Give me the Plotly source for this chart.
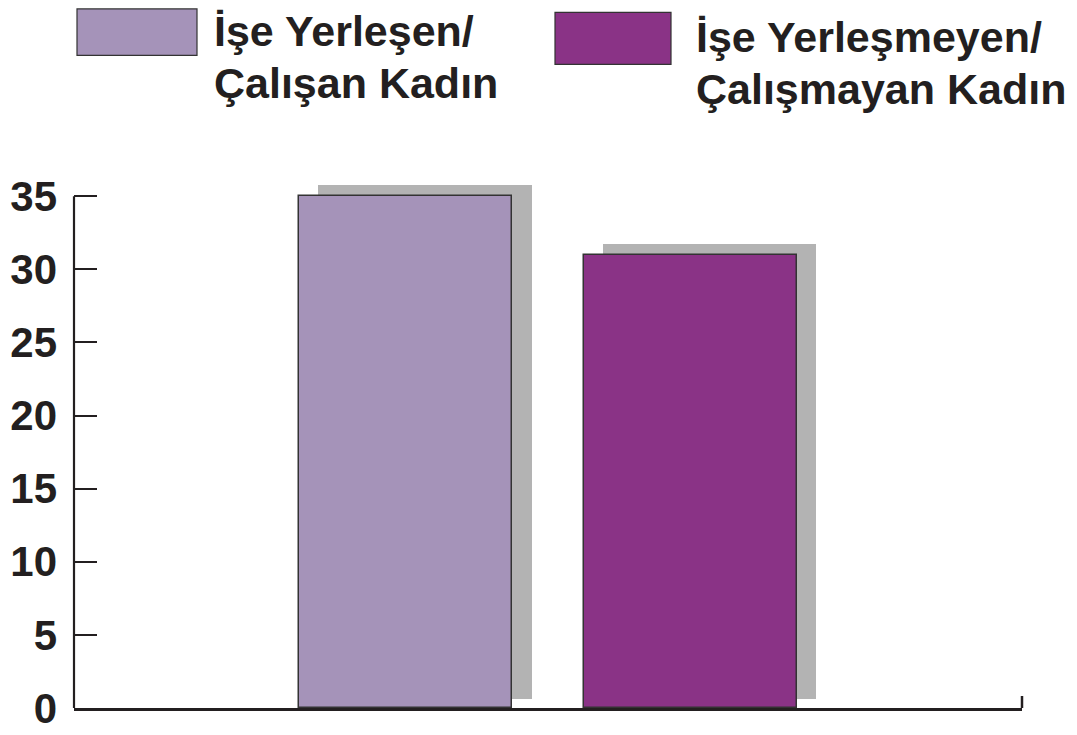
import plotly.graph_objects as go

# ---- data ----
legend_line1 = ["İşe Yerleşen/", "İşe Yerleşmeyen/"]
legend_line2 = ["Çalışan Kadın", "Çalışmayan Kadın"]
values = [35, 31]
x_pos = [1, 2]
y_ticks = [0, 5, 10, 15, 20, 25, 30, 35]
colors = ["#a593b9", "#8a3386"]

# ---- styling ----
INK = "#231f20"
SHADOW = "#b3b3b3"
FONT = "Liberation Sans, Arial, Helvetica, sans-serif"
OFF = 8  # page body margin
W, H = 1077, 735
# desired screen positions of the plot area
SX0, SX1, SY_BOTTOM = 74, 1022, 708
UNIT = 512 / 35.0
YMAX = 37
SY_TOP = SY_BOTTOM - YMAX * UNIT
L = SX0 - OFF
R = W - (SX1 - OFF)
T = SY_TOP - OFF
B = H - (SY_BOTTOM - OFF)
XR = [-0.1665, 3.1665]
BAR_W = 0.75
SH_DX = 0.067
SH_BASE = 0.62
SH_EXTRA = 0.12

fig = go.Figure()

# shadows
fig.add_trace(go.Bar(
    x=[x + SH_DX for x in x_pos], y=[v + SH_EXTRA for v in values], base=SH_BASE,
    width=BAR_W, marker=dict(color=SHADOW, line=dict(width=0)),
    showlegend=False, hoverinfo="skip"))

# bars
for i, (x, v) in enumerate(zip(x_pos, values)):
    fig.add_trace(go.Bar(
        x=[x], y=[v], width=BAR_W, name=legend_line1[i] + " " + legend_line2[i],
        marker=dict(color=colors[i], line=dict(color="#333333", width=1.5)),
        showlegend=False))

pw = W - L - R
ph = H - T - B


def px_x(p):
    """screen x pixel -> paper x"""
    return (p - OFF - L) / pw


def px_y(p):
    """screen y pixel -> paper y"""
    return 1 + (T - (p - OFF)) / ph


shapes = []
# y axis line from 0 to 35
shapes.append(dict(type="line", xref="paper", yref="y", x0=0, x1=0, y0=0, y1=max(y_ticks),
                   line=dict(color=INK, width=2.2)))
# right end tick of x axis
shapes.append(dict(type="line", xref="paper", yref="paper", x0=1, x1=1, y0=0, y1=12 / ph,
                   line=dict(color=INK, width=2.5)))

# legend boxes (screen px): x0, x1, ytop, ybottom
legend_boxes = [(77, 197, 8.6, 55), (555, 671, 12, 64)]
# text left x, baseline of line 1, baseline of line 2 (screen px)
legend_text = [(216, 47, 99), (698, 52.5, 105)]
TXT_SIZE = 43
annotations = []
for i, (x0, x1, y0, y1) in enumerate(legend_boxes):
    shapes.append(dict(type="rect", xref="paper", yref="paper",
                       x0=px_x(x0), x1=px_x(x1), y0=px_y(y1), y1=px_y(y0),
                       fillcolor=colors[i], line=dict(color="#333333", width=1.2)))
    tx, b1, b2 = legend_text[i]
    for txt, base in ((legend_line1[i], b1), (legend_line2[i], b2)):
        annotations.append(dict(xref="paper", yref="paper",
                                x=px_x(tx - 4), y=px_y(base - 0.98 * TXT_SIZE),
                                xanchor="left", yanchor="top", align="left",
                                showarrow=False, text=txt,
                                font=dict(family=FONT, size=TXT_SIZE, color=INK,
                                          weight="bold")))

fig.update_layout(
    width=W, height=H,
    margin=dict(l=L, r=R, t=T, b=B, autoexpand=False),
    paper_bgcolor="white", plot_bgcolor="white",
    barmode="overlay", bargap=0,
    showlegend=False,
    shapes=shapes, annotations=annotations,
    xaxis=dict(range=XR, showgrid=False, zeroline=False, showticklabels=False,
               ticks="", showline=True, linecolor=INK, linewidth=2.5, fixedrange=True),
    yaxis=dict(range=[0, YMAX], showgrid=False, zeroline=False, showline=False,
               tickvals=y_ticks, ticktext=[str(t) for t in y_ticks],
               ticks="inside", ticklen=23, tickwidth=2, tickcolor=INK,
               ticklabelstandoff=16,
               tickfont=dict(family=FONT, size=42, color=INK, weight="bold"),
               automargin=False, fixedrange=True),
)

fig.write_html("out.html")
